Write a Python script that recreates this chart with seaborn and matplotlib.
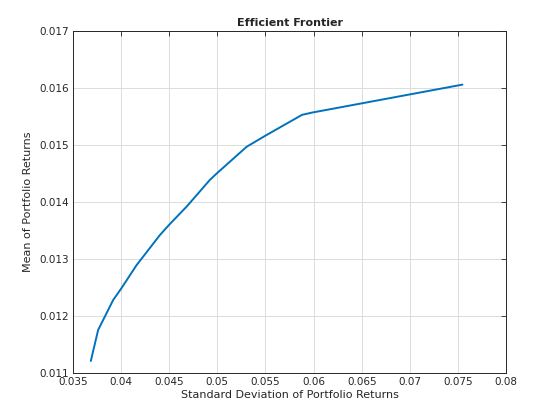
import matplotlib
matplotlib.use("Agg")
import matplotlib.pyplot as plt
import seaborn as sns

# frontier points
port_risk = [0.03687, 0.03763, 0.03919, 0.04006, 0.04161, 0.04404, 0.04500,
             0.04682, 0.04924, 0.05000, 0.05305, 0.05495, 0.05880, 0.05985,
             0.07545]
port_return = [0.01121, 0.011754, 0.01228, 0.01249, 0.01289, 0.01342, 0.01360,
               0.01392, 0.01439, 0.01451, 0.01497, 0.01516, 0.01553, 0.01557,
               0.01606]

x_ticks = [0.035, 0.04, 0.045, 0.05, 0.055, 0.06, 0.065, 0.07, 0.075, 0.08]
y_ticks = [0.011, 0.012, 0.013, 0.014, 0.015, 0.016, 0.017]

sns.set_style("white")
plt.rcParams['font.family'] = ['DejaVu Sans']

fig = plt.figure(figsize=(5.6, 4.2), dpi=100)
ax = fig.add_axes([0.130, 0.112, 0.774, 0.814])

sns.lineplot(x=port_risk, y=port_return, ax=ax, color="#0072BD", linewidth=1.4, sort=False)

ax.set_xlim(0.035, 0.08)
ax.set_ylim(0.011, 0.017)
ax.set_xticks(x_ticks)
ax.set_yticks(y_ticks)
ax.set_xticklabels([f"{t:g}" for t in x_ticks])
ax.set_yticklabels([f"{t:g}" for t in y_ticks])

ax.grid(True, color="#dcdcdc", linewidth=0.7)
ax.tick_params(direction="in", top=True, right=True, length=3.5, width=0.6,
               labelsize=7.5, colors="#262626", pad=3)
for s in ax.spines.values():
    s.set_visible(True)
    s.set_color("#262626")
    s.set_linewidth(0.7)

ax.set_title("Efficient Frontier", fontsize=8, fontweight="bold", pad=4)
ax.set_xlabel("Standard Deviation of Portfolio Returns", fontsize=8, color="#262626", labelpad=2)
ax.set_ylabel("Mean of Portfolio Returns", fontsize=8, color="#262626", labelpad=4)

fig.savefig("out.png", dpi=100, facecolor="white")
